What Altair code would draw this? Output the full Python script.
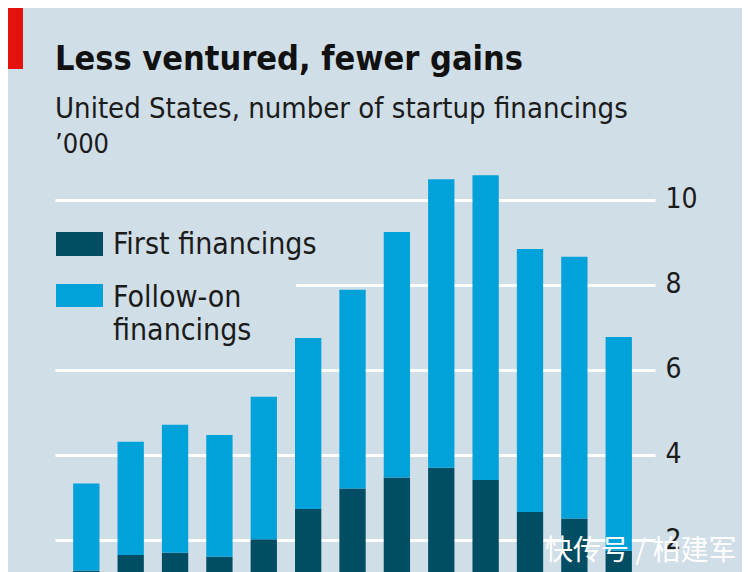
import altair as alt
import pandas as pd

# ---- data ('000 financings) ----
years = [str(y) for y in range(2005, 2018)]
first_financings = [1.28, 1.65, 1.70, 1.61, 2.02, 2.73, 3.21, 3.47, 3.70, 3.41, 2.66, 2.51, 1.75]
follow_on_financings = [2.05, 2.66, 3.01, 2.86, 3.35, 4.02, 4.67, 5.77, 6.78, 7.16, 6.18, 6.15, 5.02]
series = ["First financings", "Follow-on financings"]
y_ticks = [2, 4, 6, 8, 10]

title_text = ["Less ventured, fewer gains"]
subtitle_text = ["United States, number of startup financings"]
unit_text = ["\u2019000"]
watermark_text = ["快传号 / 柏建军"]

# ---- styles ----
BG = "#cfdee7"
DARK = "#014d64"
LIGHT = "#01a2d9"
TEXT = "#1b1b1b"
FONT = "Liberation Sans Narrow, DejaVu Sans Condensed, Roboto"

rows = []
for i, yr in enumerate(years):
    rows.append({"year": yr, "series": series[0], "value": first_financings[i], "order": 0})
    rows.append({"year": yr, "series": series[1], "value": follow_on_financings[i], "order": 1})
df = pd.DataFrame(rows)

W, H = 600, 406

bars = alt.Chart(df).mark_bar(clip=True).encode(
    x=alt.X("year:O", axis=None,
            scale=alt.Scale(paddingInner=0.407, paddingOuter=0.465, align=0.44)),
    y=alt.Y("sum(value):Q", stack="zero",
            scale=alt.Scale(domain=[1.25, 10.79], nice=False, zero=False),
            axis=alt.Axis(orient="right", values=y_ticks, title=None, grid=True,
                          gridColor="white", gridWidth=3, gridOpacity=1,
                          ticks=False, domain=False, labelFont=FONT, labelFontSize=28,
                          labelColor=TEXT, labelPadding=10, labelBaseline="middle")),
    color=alt.Color("series:N", legend=None,
                    scale=alt.Scale(domain=series, range=[DARK, LIGHT])),
    order=alt.Order("order:Q", sort="ascending"),
)

one = pd.DataFrame({"k": [0]})

legend_cover = alt.Chart(one).mark_rect(color=BG).encode(
    x=alt.value(0), x2=alt.value(241), y=alt.value(49), y2=alt.value(184))

red_tab = alt.Chart(one).mark_rect(color="#e3120b").encode(
    x=alt.value(-47), x2=alt.value(-32), y=alt.value(-158), y2=alt.value(-97))

def text_layer(values, x, y, size, weight="normal", color=TEXT, font=FONT, **kw):
    return alt.Chart(pd.DataFrame({"t": values})).mark_text(
        align="left", baseline="alphabetic", font=font, fontSize=size,
        fontWeight=weight, color=color, **kw
    ).encode(x=alt.value(x), y=alt.value(y), text="t:N")

title = text_layer(title_text, 0, -96, 34, weight="bold", color="#111111")
subtitle = text_layer(subtitle_text, 0, -48, 29)
unit = text_layer(unit_text, 0, -13, 27)

leg_df = pd.DataFrame({"series": series})
sw1 = alt.Chart(leg_df.iloc[[0]]).mark_rect(color=DARK).encode(
    x=alt.value(1), x2=alt.value(48), y=alt.value(66), y2=alt.value(90))
sw2 = alt.Chart(leg_df.iloc[[1]]).mark_rect(color=LIGHT).encode(
    x=alt.value(1), x2=alt.value(48), y=alt.value(118), y2=alt.value(141))
lt1 = text_layer([series[0]], 58, 88, 30)
lt2 = text_layer([series[1]], 58, 141, 30, lineBreak=" ", lineHeight=33)

watermark = text_layer(watermark_text, 490, 394, 28, color="white",
                       font="Noto Sans CJK SC")

chart = alt.layer(
    legend_cover, bars, red_tab, title, subtitle, unit, sw1, sw2, lt1, lt2, watermark
).properties(
    width=W, height=H,
    padding={"left": 47, "top": 158, "right": 87, "bottom": 0},
    autosize=alt.AutoSizeParams(type="none"),
    background=BG,
).configure_view(stroke=None)

chart.save("out.html", embed_options={"renderer": "svg", "actions": False})
